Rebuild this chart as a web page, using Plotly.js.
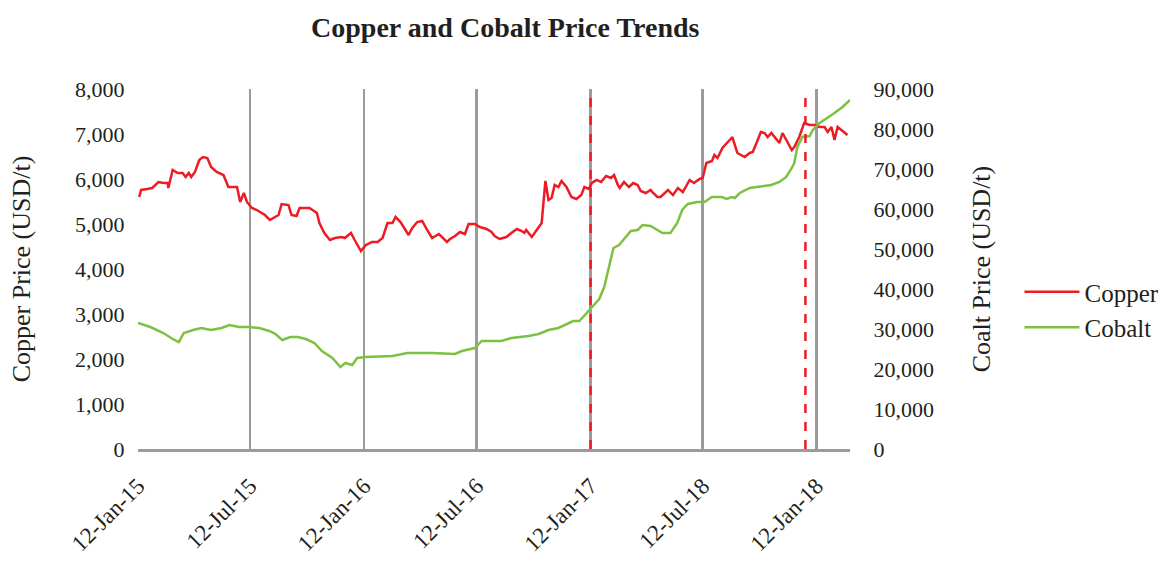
<!DOCTYPE html>
<html>
<head>
<meta charset="utf-8">
<script src="https://cdn.plot.ly/plotly-3.0.1.min.js"></script>
<style>html,body{margin:0;padding:0;background:#fff;}#chart{width:1175px;height:562px;}</style>
</head>
<body>
<div id="chart"></div>
<script>
// ---- Data ----
const copperDates = ['2015-01-14','2015-01-17','2015-01-27','2015-02-04','2015-02-14','2015-02-22','2015-03-01','2015-03-02','2015-03-09','2015-03-17','2015-03-25','2015-03-30','2015-04-04','2015-04-08','2015-04-14','2015-04-21','2015-04-27','2015-05-04','2015-05-10','2015-05-19','2015-05-30','2015-06-07','2015-06-12','2015-06-21','2015-06-26','2015-07-02','2015-07-07',
'2015-07-15','2015-07-23','2015-08-05','2015-08-13','2015-08-19','2015-08-27','2015-09-01','2015-09-12','2015-09-17','2015-09-25','2015-09-30','2015-10-08','2015-10-16','2015-10-28','2015-11-01','2015-11-09','2015-11-18','2015-11-26','2015-12-07','2015-12-12','2015-12-22','2015-12-28','2016-01-07',
'2016-01-15','2016-01-25','2016-02-03','2016-02-11','2016-02-19','2016-02-27','2016-03-03','2016-03-11','2016-03-24','2016-03-30','2016-04-07','2016-04-15','2016-04-23','2016-05-01','2016-05-12','2016-05-17','2016-05-25','2016-05-30','2016-06-07','2016-06-15','2016-06-23','2016-06-29','2016-07-09',
'2016-07-17','2016-07-28','2016-08-05','2016-08-10','2016-08-18','2016-08-29','2016-09-06','2016-09-15','2016-09-23','2016-09-27','2016-09-30','2016-10-09','2016-10-17','2016-10-25','2016-10-31','2016-11-05','2016-11-10','2016-11-15','2016-11-21','2016-11-26','2016-12-04','2016-12-12','2016-12-20','2016-12-28','2017-01-02','2017-01-09',
'2017-01-14','2017-01-22','2017-01-29','2017-02-06','2017-02-14','2017-02-19','2017-02-25','2017-02-28','2017-03-07','2017-03-15','2017-03-22','2017-03-29','2017-04-03','2017-04-11','2017-04-19','2017-04-23','2017-04-30','2017-05-05','2017-05-17','2017-05-25','2017-06-02','2017-06-10','2017-06-21','2017-06-28','2017-07-07',
'2017-07-12','2017-07-18','2017-07-27','2017-07-31','2017-08-05','2017-08-13','2017-08-21','2017-08-29','2017-09-06','2017-09-13','2017-09-18','2017-09-26','2017-10-01','2017-10-07','2017-10-14','2017-10-20','2017-10-25','2017-10-31','2017-11-08','2017-11-13','2017-11-18','2017-11-24','2017-12-03','2017-12-07','2017-12-15','2017-12-23','2018-01-01','2018-01-09',
'2018-01-17','2018-01-25','2018-01-30','2018-02-05','2018-02-10','2018-02-15','2018-02-21','2018-02-26','2018-03-03'];
const copperPrice = [5600,5756,5778,5800,5933,5911,5911,5800,6200,6133,6133,6044,6133,6044,6156,6422,6489,6467,6267,6156,6089,5822,5822,5822,5489,5689,5489,
5356,5311,5200,5089,5133,5200,5444,5422,5200,5178,5356,5356,5356,5244,5022,4800,4644,4689,4711,4689,4800,4644,4400,
4533,4600,4600,4689,5022,5022,5156,5044,4756,4911,5044,5067,4867,4689,4778,4711,4600,4667,4733,4822,4778,5000,5000,
4933,4889,4822,4733,4667,4711,4800,4889,4844,4800,4867,4711,4867,5022,5956,5533,5578,5867,5822,5956,5822,5600,5556,5644,5822,5778,
5911,5978,5933,6067,6022,6089,5867,5800,5933,5822,5911,5867,5733,5689,5756,5689,5600,5600,5756,5644,5800,5711,5978,5911,6000,
6022,6356,6400,6533,6467,6689,6822,6933,6578,6533,6489,6578,6600,6800,7044,7022,6933,7022,6889,6800,7022,6867,6644,6711,6933,7244,7200,7200,
7156,7156,7044,7156,6867,7156,7089,7044,6978];

const cobaltDates = ['2015-01-12','2015-02-01','2015-02-22','2015-03-09','2015-03-19','2015-03-27','2015-04-11','2015-04-24','2015-05-10','2015-05-27','2015-06-09','2015-06-24','2015-07-10',
'2015-07-27','2015-08-12','2015-08-22','2015-09-02','2015-09-15','2015-09-27','2015-10-10','2015-10-24','2015-11-05','2015-11-22','2015-12-05','2015-12-13','2015-12-24','2016-01-01',
'2016-01-15','2016-02-27','2016-03-22','2016-05-01','2016-06-07','2016-06-18','2016-07-09',
'2016-07-20','2016-08-21','2016-09-06','2016-10-04','2016-10-20','2016-11-05','2016-11-21','2016-12-01','2016-12-15','2016-12-25','2017-01-12',
'2017-01-26','2017-02-03','2017-02-11','2017-02-18','2017-02-27','2017-03-10','2017-03-18','2017-03-29','2017-04-06','2017-04-19','2017-05-08','2017-05-21','2017-06-01','2017-06-09','2017-06-18','2017-07-03',
'2017-07-15','2017-07-27','2017-08-12','2017-08-20','2017-08-28','2017-09-02','2017-09-10','2017-09-26','2017-10-15','2017-10-31','2017-11-13','2017-11-24','2017-12-03','2017-12-07','2017-12-12','2017-12-20','2018-01-01','2018-01-06',
'2018-01-17','2018-01-30','2018-02-10','2018-02-23','2018-03-07'];
const cobaltPrice = [31500,30500,29000,27500,26750,29000,29750,30250,29750,30250,31000,30500,30500,
30250,29500,28750,27250,28000,28000,27500,26500,24500,22750,20500,21500,21000,22750,
23000,23250,24000,24000,23750,24500,25250,
27000,27000,27750,28250,28750,29750,30250,31000,32000,32000,35250,
37500,40500,45500,50250,51000,53000,54500,54750,56000,55750,54000,54000,56500,59750,61250,61750,
61750,63000,63000,62500,63000,62750,64000,65250,65750,66000,66750,68000,70250,71500,75500,78000,78250,79750,
81500,82750,84000,85500,87250];

const tickDates = ['2015-01-12','2015-07-12','2016-01-12','2016-07-12','2017-01-12','2017-07-12','2018-01-12'];
const tickLabels = ['12-Jan-15','12-Jul-15','12-Jan-16','12-Jul-16','12-Jan-17','12-Jul-18','12-Jan-18'];
const eventDates = ['2017-01-12','2017-12-25'];

const FONT = 'Liberation Serif, Times New Roman, serif';
const INK = '#231f20';

const traces = [
  {x: copperDates, y: copperPrice, name: 'Copper', type: 'scatter', mode: 'lines',
   line: {color: '#ED1C24', width: 2.5}, yaxis: 'y'},
  {x: cobaltDates, y: cobaltPrice, name: 'Cobalt', type: 'scatter', mode: 'lines',
   line: {color: '#7DC142', width: 2.5}, yaxis: 'y2'}
];

const shapes = eventDates.map(d => ({
  type: 'line', xref: 'x', yref: 'paper', x0: d, x1: d, y0: 0, y1: 1,
  line: {color: '#ED1C24', width: 2.5, dash: 'dash'}, layer: 'above'
}));

const layout = {
  width: 1175, height: 562,
  margin: {l: 138, r: 325, t: 89, b: 113, autoexpand: false},
  paper_bgcolor: '#fff', plot_bgcolor: '#fff',
  font: {family: FONT, color: INK, size: 22},
  title: {text: '<b>Copper and Cobalt Price Trends</b>', font: {family: FONT, size: 28, color: INK},
          x: 0.43, xanchor: 'center', y: 0.952, yanchor: 'middle', xref: 'container', yref: 'container'},
  showlegend: true,
  legend: {x: 1.238, xanchor: 'left', y: 0.5, yanchor: 'top', font: {family: FONT, size: 25, color: INK},
           bgcolor: 'rgba(0,0,0,0)', tracegroupgap: 0, itemwidth: 55},
  xaxis: {type: 'date', range: ['2015-01-12', '2018-03-07'],
          tickmode: 'array', tickvals: tickDates, ticktext: tickLabels, tickangle: -45,
          showgrid: true, gridcolor: '#9b9b9b', gridwidth: 2.5,
          showline: true, linecolor: '#9b9b9b', linewidth: 2.5,
          ticks: 'outside', ticklen: 12, tickcolor: 'rgba(0,0,0,0)',
          tickfont: {family: FONT, size: 23, color: INK}, zeroline: false},
  yaxis: {range: [0, 8000], dtick: 1000, tickformat: ',', showgrid: false, zeroline: false,
          showline: false, ticks: 'outside', ticklen: 8, tickcolor: 'rgba(0,0,0,0)',
          tickfont: {family: FONT, size: 22, color: INK},
          title: {text: 'Copper Price (USD/t)', font: {family: FONT, size: 26, color: INK}, standoff: 36}},
  yaxis2: {range: [0, 90000], dtick: 10000, tickformat: ',', overlaying: 'y', side: 'right',
           showgrid: false, zeroline: false, showline: false, ticks: 'outside', ticklen: 18, tickcolor: 'rgba(0,0,0,0)',
           tickfont: {family: FONT, size: 22, color: INK},
           title: {text: 'Coalt Price (USD/t)', font: {family: FONT, size: 26, color: INK}, standoff: 38}},
  shapes: shapes
};

Plotly.newPlot('chart', traces, layout, {displayModeBar: false, staticPlot: true});
</script>
</body>
</html>
